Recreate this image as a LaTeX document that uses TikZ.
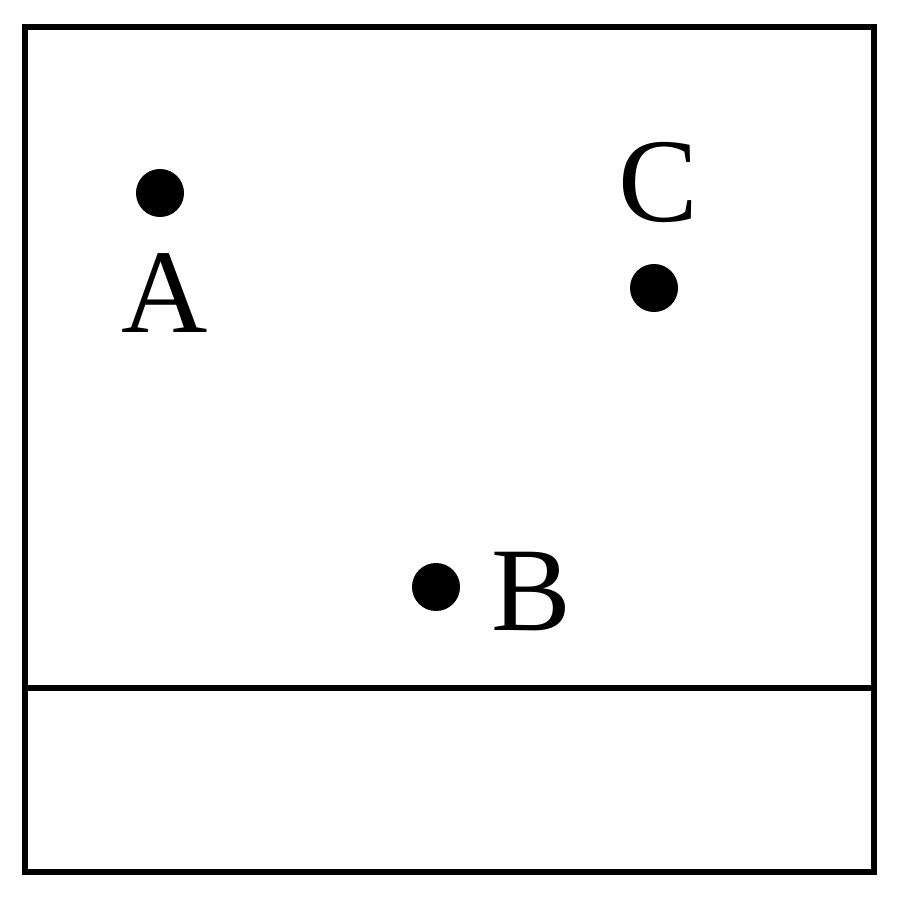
\documentclass[tikz,border=0pt]{standalone}
\usepackage{fontspec}
\setmainfont{Liberation Serif}
\begin{document}
\begin{tikzpicture}[x=0.01cm,y=-0.01cm,
  frame/.style={draw=black,line width=1.5pt},
  dot/.style={circle,fill=black,inner sep=0pt,minimum size=0.48cm},
  lbl/.style={inner sep=0pt,font=\fontsize{34}{38}\selectfont}]
\useasboundingbox (0,0) rectangle (900,907);
\draw[frame] (25,27) rectangle (874,872);
\coordinate (l) at (25,688);
\coordinate (r) at (874,688);
\draw[frame] (l) -- (r);
\node[dot] (a) at (160,193) {};
\node[dot] (c) at (654,288) {};
\node[dot] (b) at (436,587) {};
\node[lbl] (la) at (165,293) {A};
\node[lbl] (lc) at (658,183) {C};
\node[lbl] (lb) at (531,592) {B};
\end{tikzpicture}
\end{document}
